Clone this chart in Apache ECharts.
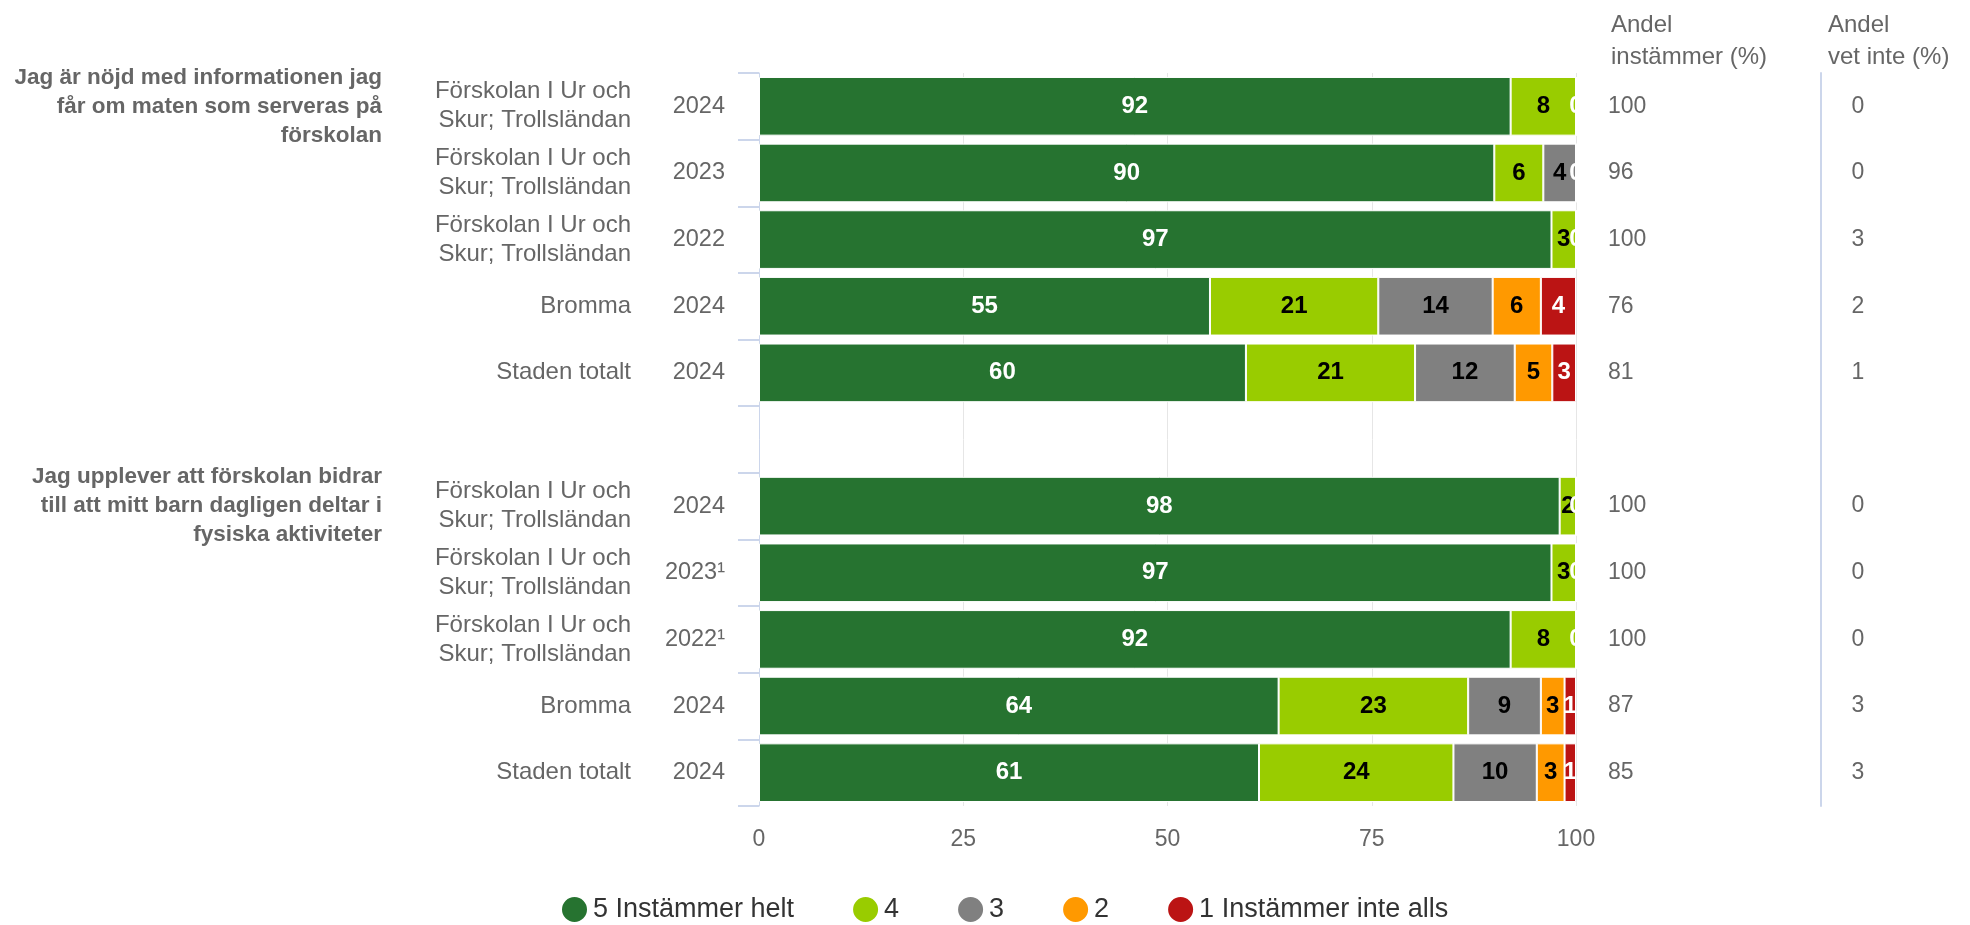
<!DOCTYPE html>
<html>
<head>
<meta charset="utf-8">
<script src="https://cdn.jsdelivr.net/npm/echarts@6/dist/echarts.min.js"></script>
<style>html,body{margin:0;padding:0;background:#fff}#c{width:1970px;height:925px}</style>
</head>
<body>
<div id="c"></div>
<script>
const years = ['2024','2023','2022','2024','2024','','2024','2023\u00b9','2022\u00b9','2024','2024'];
const units = ['Förskolan I Ur och\nSkur; Trollsländan','Förskolan I Ur och\nSkur; Trollsländan','Förskolan I Ur och\nSkur; Trollsländan','Bromma','Staden totalt','',
  'Förskolan I Ur och\nSkur; Trollsländan','Förskolan I Ur och\nSkur; Trollsländan','Förskolan I Ur och\nSkur; Trollsländan','Bromma','Staden totalt'];
const questions = ['Jag är nöjd med informationen jag\nfår om maten som serveras på\nförskolan','','','','','',
  'Jag upplever att förskolan bidrar\ntill att mitt barn dagligen deltar i\nfysiska aktiviteter','','','',''];
const seriesNames = ['5 Instämmer helt','4','3','2','1 Instämmer inte alls'];
const s5 = [92, 90, 97, 55.2, 59.6, null, 98, 97, 92, 63.6, 61.2];
const s4 = [8, 6, 3, 20.6, 20.7, null, 2, 3, 8, 23.2, 23.8];
const s3 = [0, 4, 0, 14.0, 12.2, null, 0, 0, 0, 8.9, 10.2];
const s2 = [0, 0, 0, 5.9, 4.6, null, 0, 0, 0, 2.9, 3.4];
const s1 = [0, 0, 0, 4.3, 2.9, null, 0, 0, 0, 1.4, 1.4];
const agree = ['100','96','100','76','81','','100','100','100','87','85'];
const dontKnow = ['0','0','3','2','1','','0','0','0','3','3'];
const xTicks = [0, 25, 50, 75, 100];

const colors = ['#267330','#99cc00','#808080','#ff9900','#bb1414'];
const labelColors = ['#ffffff','#000000','#000000','#000000','#ffffff'];
const FONT = '"Liberation Sans", Arial, sans-serif';
const values = [s5, s4, s3, s2, s1];
const PAD = [7, 0, 0, 0];

const chart = echarts.init(document.getElementById('c'));
const series = values.map((arr, i) => ({
  name: seriesNames[i],
  type: 'bar',
  stack: 'total',
  yAxisIndex: 0,
  barCategoryGap: '12%',
  data: arr,
  itemStyle: { color: colors[i], borderColor: '#ffffff', borderWidth: 1 },
  label: {
    show: true,
    position: 'inside',
    color: labelColors[i],
    fontFamily: FONT,
    fontWeight: 'bold',
    fontSize: 24,
    padding: [4, 0, 0, 0],
    formatter: p => {
      if (p.value == null) return '';
      if (p.value === 0 && i !== 4) return '';
      return String(Math.round(p.value));
    }
  }
}));

const option = {
  animation: false,
  textStyle: { fontFamily: FONT },
  title: [
    { text: 'Andel\ninstämmer (%)', left: 1606, top: 4,
      textStyle: { fontFamily: FONT, fontSize: 24, fontWeight: 'normal', color: '#666666', lineHeight: 32 } },
    { text: 'Andel\nvet inte (%)', left: 1823, top: 4,
      textStyle: { fontFamily: FONT, fontSize: 24, fontWeight: 'normal', color: '#666666', lineHeight: 32 } }
  ],
  legend: {
    data: seriesNames,
    left: 555, top: 890,
    icon: 'circle', itemWidth: 27, itemHeight: 27, itemGap: 57,
    textStyle: { fontFamily: FONT, fontSize: 27, color: '#333333' }
  },
  grid: { left: 759, right: 394, top: 73, bottom: 119 },
  xAxis: {
    type: 'value', min: xTicks[0], max: xTicks[xTicks.length - 1], interval: 25,
    axisLine: { show: false }, axisTick: { show: false },
    axisLabel: { fontFamily: FONT, fontSize: 23, color: '#666666', margin: 22 },
    splitLine: { lineStyle: { color: '#e6e6e6', width: 1 } }
  },
  yAxis: [
    { type: 'category', data: years, inverse: true, position: 'left',
      axisLine: { show: true, lineStyle: { color: '#ccd6eb', width: 1 } },
      axisTick: { show: true, length: 21, lineStyle: { color: '#ccd6eb', width: 2 } },
      axisLabel: { fontFamily: FONT, fontSize: 23.5, color: '#666666', margin: 34, padding: PAD } },
    { type: 'category', data: units, inverse: true, position: 'left', offset: 120,
      axisLine: { show: false }, axisTick: { show: false },
      axisLabel: { fontFamily: FONT, fontSize: 24, color: '#666666', margin: 8, lineHeight: 29, align: 'right', padding: PAD } },
    { type: 'category', data: questions, inverse: true, position: 'left', offset: 377,
      axisLine: { show: false }, axisTick: { show: false },
      axisLabel: { fontFamily: FONT, fontSize: 22.5, fontWeight: 'bold', color: '#666666', margin: 0, lineHeight: 29, align: 'right', padding: PAD } },
    { type: 'category', data: agree, inverse: true, position: 'right', offset: 0,
      axisLine: { show: false }, axisTick: { show: false },
      axisLabel: { fontFamily: FONT, fontSize: 23, color: '#666666', margin: 32, align: 'left', padding: PAD } },
    { type: 'category', data: dontKnow, inverse: true, position: 'right', offset: 245,
      axisLine: { show: true, lineStyle: { color: '#ccd6eb', width: 2 } }, axisTick: { show: false },
      axisLabel: { fontFamily: FONT, fontSize: 23, color: '#666666', margin: 37, align: 'center', padding: PAD } }
  ],
  series: series
};
chart.setOption(option);
</script>
</body>
</html>
